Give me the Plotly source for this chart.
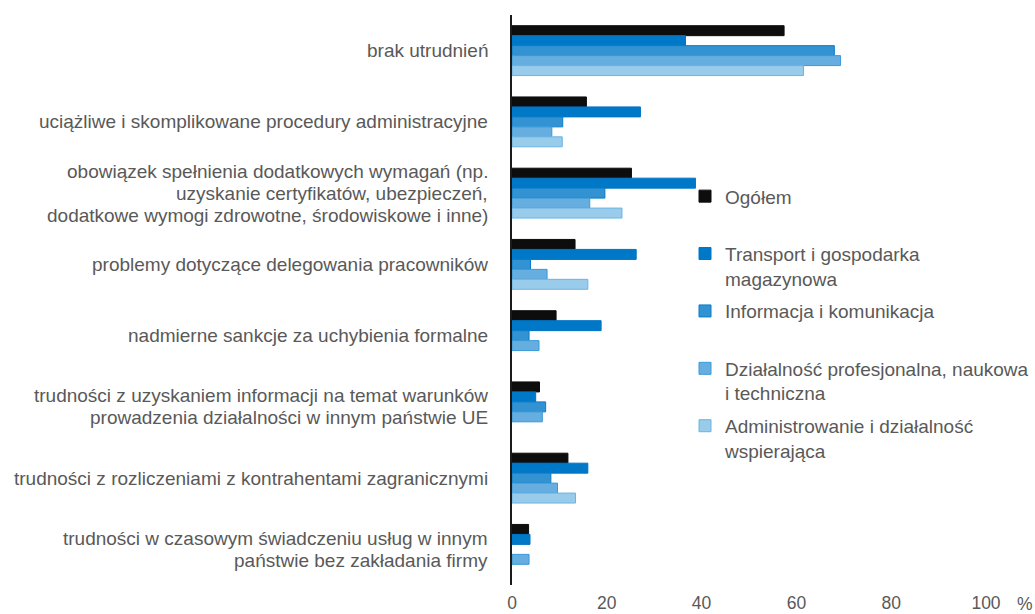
import plotly.graph_objects as go

categories = [
    "brak utrudnień",
    "uciążliwe i skomplikowane procedury administracyjne",
    "obowiązek spełnienia dodatkowych wymagań (np.<br>uzyskanie certyfikatów, ubezpieczeń,<br>dodatkowe wymogi zdrowotne, środowiskowe i inne)",
    "problemy dotyczące delegowania pracowników",
    "nadmierne sankcje za uchybienia formalne",
    "trudności z uzyskaniem informacji na temat warunków<br>prowadzenia działalności w innym państwie UE",
    "trudności z rozliczeniami z kontrahentami zagranicznymi",
    "trudności w czasowym świadczeniu usług w innym<br>państwie bez zakładania firmy",
]

series_names = [
    "Ogółem<br> ",
    "Transport i gospodarka<br>magazynowa",
    "Informacja i komunikacja<br> ",
    "Działalność profesjonalna, naukowa<br>i techniczna",
    "Administrowanie i działalność<br>wspierająca",
]

ogolem = [57.4, 15.7, 25.2, 13.3, 9.3, 5.8, 11.8, 3.5]
transport = [36.6, 27.1, 38.7, 26.2, 18.8, 5.0, 16.0, 3.8]
informacja = [68.0, 10.7, 19.6, 3.9, 3.6, 7.1, 8.2, None]
dzialalnosc = [69.3, 8.4, 16.4, 7.4, 5.7, 6.4, 9.6, 3.6]
administrowanie = [61.5, 10.6, 23.2, 16.0, None, None, 13.4, None]

x_ticks = [0, 20, 40, 60, 80, 100]
unit_label = "%"

series_values = [ogolem, transport, informacja, dzialalnosc, administrowanie]
fills = ["#0d0d0d", "#0078c8", "#3392d2", "#66aee0", "#99cbea"]
outlines = ["#0d0d0d", "#0074c4", "#0a7cc8", "#3a9ad8", "#6ab4e4"]

FONT = "Liberation Sans, Arial, sans-serif"
TXT = "#595959"

fig = go.Figure()
for i, (name, vals) in enumerate(zip(series_names, series_values)):
    fig.add_trace(go.Bar(
        y=categories, x=vals, name=name, orientation="h",
        marker=dict(color=fills[i], line=dict(color=outlines[i], width=1)),
        legendgroup=f"g{i}",
    ))

# category labels, drawn line by line for tighter line spacing
annotations = []
line_h = 22
for idx, cat in enumerate(categories):
    lines = cat.split("<br>")
    n = len(lines)
    for k, ln in enumerate(lines):
        annotations.append(dict(
            text=ln, xref="paper", yref="y", x=-0.0464, y=idx,
            xanchor="right", yanchor="middle", showarrow=False,
            yshift=-(k - (n - 1) / 2) * line_h,
            font=dict(family=FONT, size=19, color=TXT),
        ))
annotations.append(dict(
    text=unit_label, xref="paper", yref="paper", x=1.082, y=-0.033,
    xanchor="center", yanchor="middle", showarrow=False,
    font=dict(family=FONT, size=17.5, color=TXT),
))

fig.update_layout(
    width=1035, height=614,
    margin=dict(l=512, r=49, t=15, b=29, autoexpand=False),
    paper_bgcolor="white", plot_bgcolor="white",
    barmode="group", bargap=0.3, bargroupgap=0,
    font=dict(family=FONT, size=19, color=TXT),
    showlegend=True,
    legend=dict(
        x=0.365, y=0.7153, xanchor="left", yanchor="top",
        font=dict(family=FONT, size=19, color=TXT),
        valign="top", tracegroupgap=5, bgcolor="rgba(0,0,0,0)",
        traceorder="grouped",
    ),
    xaxis=dict(
        range=[0, 100], tickvals=x_ticks, showgrid=False, zeroline=False,
        showline=False, ticks="outside", ticklen=2, tickcolor="rgba(0,0,0,0)",
        tickfont=dict(family=FONT, size=17.5, color=TXT),
        fixedrange=True,
    ),
    yaxis=dict(
        autorange="reversed", showgrid=False, zeroline=False,
        showline=True, linecolor="#1a1a1a", linewidth=1.5,
        showticklabels=False, ticks="",
    ),
    annotations=annotations,
)

fig.write_html("out.html", config={"displayModeBar": False},
               post_script="document.body.style.margin='0';")
